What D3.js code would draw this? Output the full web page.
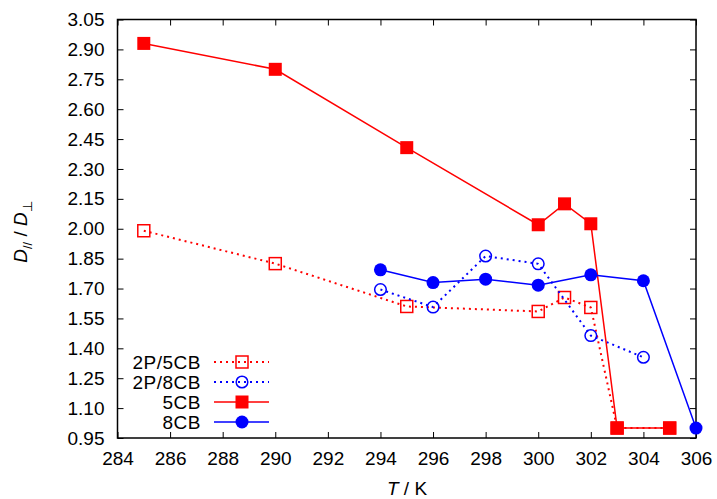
<!DOCTYPE html>
<html lang="en">
<head>
    <meta charset="UTF-8">
    <script src="https://cdn.jsdelivr.net/npm/d3@7"></script>
    <title>D ratio vs T</title>
    <style>
        body { margin: 0; background: #fff; }
        text { font-family: "Liberation Sans", Arial, sans-serif; }
    </style>
</head>
<body>
<script>
    // temperatures (K) and D_par / D_perp values
    var tP5CB = [285, 290, 295, 300, 301, 302, 303, 305];
    var vP5CB = [1.99, 1.825, 1.61, 1.585, 1.655, 1.605, 1.0, 1.0];

    var tP8CB = [294, 296, 298, 300, 302, 304];
    var vP8CB = [1.695, 1.607, 1.863, 1.824, 1.464, 1.355];

    var t5CB = [285, 290, 295, 300, 301, 302, 303, 305];
    var v5CB = [2.93, 2.80, 2.407, 2.02, 2.125, 2.025, 1.0, 1.0];

    var t8CB = [294, 296, 298, 300, 302, 304, 306];
    var v8CB = [1.794, 1.73, 1.747, 1.717, 1.769, 1.739, 1.0];

    var xTicks = d3.range(284, 307, 2);
    var yTicks = d3.range(0, 15).map(function(i){ return +(0.95 + i * 0.15).toFixed(2); });

    var series = [
        {name: "2P/5CB", t: tP5CB, v: vP5CB, color: "#ff0000", dash: "2,4", shape: "square", filled: false},
        {name: "2P/8CB", t: tP8CB, v: vP8CB, color: "#0000ff", dash: "2,4", shape: "circle", filled: false},
        {name: "5CB",    t: t5CB,  v: v5CB,  color: "#ff0000", dash: null,  shape: "square", filled: true},
        {name: "8CB",    t: t8CB,  v: v8CB,  color: "#0000ff", dash: null,  shape: "circle", filled: true}
    ];

    var margin = {top: 19.5, right: 21, bottom: 61, left: 117.5};
    var W = 717, H = 499;
    var width = W - margin.left - margin.right,
        height = H - margin.top - margin.bottom;

    var svg = d3.select("body").append("svg")
        .attr("width", W)
        .attr("height", H);

    var g = svg.append("g")
        .attr("transform", "translate(" + margin.left + "," + margin.top + ")");

    var x = d3.scaleLinear().domain([284, 306]).range([0, width]);
    var y = d3.scaleLinear().domain([0.95, 3.05]).range([height, 0]);

    // axes, ticks pointing inward, mirrored on top/right
    var fmtY = d3.format(".2f");
    var axB = g.append("g").attr("transform", "translate(0," + height + ")")
        .call(d3.axisBottom(x).tickValues(xTicks).tickSize(-6).tickPadding(14).tickFormat(d3.format("d")));
    var axT = g.append("g")
        .call(d3.axisTop(x).tickValues(xTicks).tickSize(-6).tickFormat(""));
    var axL = g.append("g")
        .call(d3.axisLeft(y).tickValues(yTicks).tickSize(-6).tickPadding(13).tickFormat(fmtY));
    var axR = g.append("g").attr("transform", "translate(" + width + ",0)")
        .call(d3.axisRight(y).tickValues(yTicks).tickSize(-6).tickFormat(""));

    [axB, axT, axL, axR].forEach(function(a){
        a.select(".domain").remove();
        a.selectAll("line").attr("stroke", "#000").attr("stroke-width", 1);
        a.selectAll("text").attr("font-size", 19).attr("fill", "#000")
            .style("font-family", "'Liberation Sans', Arial, sans-serif");
    });

    g.append("rect")
        .attr("width", width).attr("height", height)
        .attr("fill", "none").attr("stroke", "#000").attr("stroke-width", 1.5);

    function drawMarker(sel, s, cx, cy) {
        if (s.shape === "square") {
            var sz = s.filled ? 13 : 12;
            sel.append("rect")
                .attr("x", cx - sz / 2).attr("y", cy - sz / 2)
                .attr("width", sz).attr("height", sz)
                .attr("fill", s.filled ? s.color : "none")
                .attr("stroke", s.color).attr("stroke-width", s.filled ? 0 : 1.5);
        } else {
            sel.append("circle")
                .attr("cx", cx).attr("cy", cy)
                .attr("r", s.filled ? 6.5 : 5.8)
                .attr("fill", s.filled ? s.color : "none")
                .attr("stroke", s.color).attr("stroke-width", s.filled ? 0 : 1.5);
        }
    }

    var line = d3.line()
        .x(function(d){ return x(d[0]); })
        .y(function(d){ return y(d[1]); });

    series.forEach(function(s){
        var pts = s.t.map(function(t, i){ return [t, s.v[i]]; });
        var sg = g.append("g");
        sg.append("path")
            .datum(pts)
            .attr("d", line)
            .attr("fill", "none")
            .attr("stroke", s.color)
            .attr("stroke-width", s.dash ? 2 : 1.5)
            .attr("stroke-dasharray", s.dash);
        pts.forEach(function(p){
            drawMarker(sg, s, x(p[0]), y(p[1]));
        });
    });

    // legend
    var legY = [362, 382, 402, 422];
    series.forEach(function(s, i){
        var lg = svg.append("g");
        lg.append("text")
            .attr("x", 201).attr("y", legY[i] + 7)
            .attr("text-anchor", "end")
            .attr("font-size", 19)
            .style("letter-spacing", "0.5px")
            .text(s.name);
        lg.append("line")
            .attr("x1", 214).attr("x2", 269)
            .attr("y1", legY[i]).attr("y2", legY[i])
            .attr("stroke", s.color)
            .attr("stroke-width", s.dash ? 2 : 1.5)
            .attr("stroke-dasharray", s.dash);
        drawMarker(lg, s, 242, legY[i]);
    });

    // axis titles
    var xt = svg.append("text")
        .attr("x", 407).attr("y", 495)
        .attr("text-anchor", "middle")
        .attr("font-size", 19);
    xt.append("tspan").attr("font-style", "italic").text("T");
    xt.append("tspan").text(" / K");

    var yt = svg.append("text")
        .attr("transform", "translate(27,232) rotate(-90)")
        .attr("text-anchor", "middle")
        .attr("font-size", 19);
    yt.append("tspan").attr("font-style", "italic").text("D");
    yt.append("tspan").attr("font-size", 13).attr("dy", 5).text("//");
    yt.append("tspan").attr("dy", -5).text(" / ");
    yt.append("tspan").attr("font-style", "italic").text("D");
    yt.append("tspan").attr("font-size", 13).attr("dy", 5).text("\u22A5");
</script>
</body>
</html>
